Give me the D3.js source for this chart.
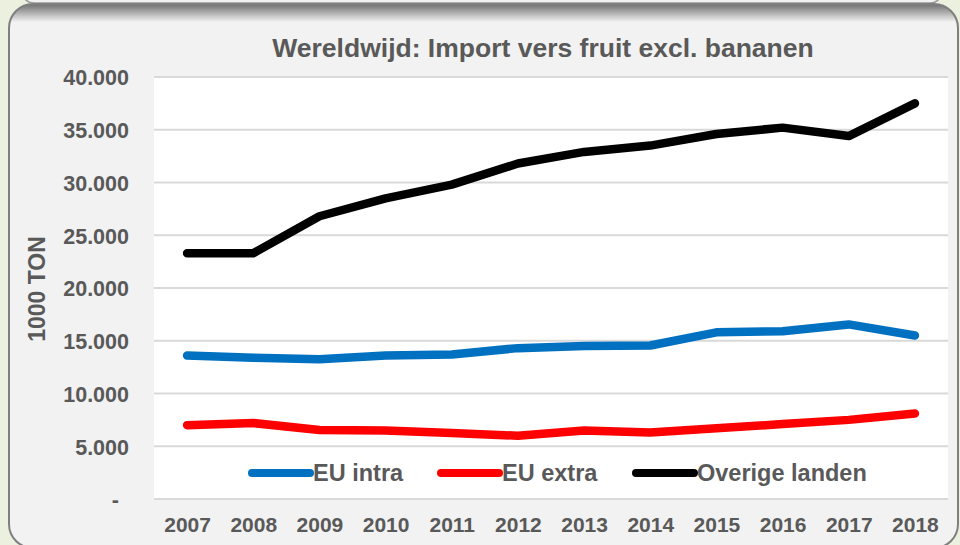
<!DOCTYPE html>
<html>
<head>
<meta charset="utf-8">
<script src="https://cdn.jsdelivr.net/npm/d3@7"></script>
<style>
  body { margin: 0; background: #ebf1de; }
  text { font-family: "Liberation Sans", Arial, sans-serif; font-weight: bold; fill: #595959; }
</style>
</head>
<body>
<script>
const years = ['2007','2008','2009','2010','2011','2012','2013','2014','2015','2016','2017','2018'];
const euIntra = [13600,13400,13250,13600,13700,14300,14500,14550,15800,15900,16550,15500];
const euExtra = [7000,7200,6550,6500,6250,6000,6500,6300,6700,7100,7500,8100];
const overige = [23300,23300,26800,28500,29800,31800,32900,33500,34600,35200,34400,37500];
const yTicks = [0,5000,10000,15000,20000,25000,30000,35000,40000];

const seriesNames = ['EU intra','EU extra','Overige landen'];
const seriesColors = ['#0070c0','#ff0000','#000000'];
const seriesValues = [euIntra, euExtra, overige];

const width = 960;
const height = 545;

let svg = d3.select('body').append('svg')
  .attr('width', width)
  .attr('height', height);

// panel background with shadow at top
let defs = svg.append('defs');
let grad = defs.append('linearGradient')
  .attr('id', 'topShade')
  .attr('gradientUnits', 'userSpaceOnUse')
  .attr('x1', 0).attr('x2', 0)
  .attr('y1', 4).attr('y2', 22);
grad.append('stop').attr('offset', 0).attr('stop-color', '#6f6f6f');
grad.append('stop').attr('offset', 1).attr('stop-color', '#f2f2f2');

svg.append('rect')
  .attr('x', 22).attr('y', -20)
  .attr('width', 920).attr('height', 23)
  .attr('rx', 12)
  .style('fill', '#f2f2f2')
  .style('stroke', '#9a9a9a')
  .style('stroke-width', 1.5);

svg.append('rect')
  .attr('x', 9).attr('y', 4)
  .attr('width', 949).attr('height', 544)
  .attr('rx', 24)
  .style('fill', 'url(#topShade)')
  .style('stroke', '#7f7f7f')
  .style('stroke-width', 2);

const plot = { left: 154, right: 948, top: 77, bottom: 499 };

let x = d3.scalePoint()
  .domain(years)
  .range([plot.left, plot.right])
  .padding(0.5);

let y = d3.scaleLinear()
  .domain([0, 40000])
  .range([plot.bottom, plot.top]);

svg.append('rect')
  .attr('x', plot.left).attr('y', plot.top)
  .attr('width', plot.right - plot.left)
  .attr('height', plot.bottom - plot.top)
  .style('fill', '#ffffff');

// gridlines
svg.append('g')
  .selectAll('line')
  .data(yTicks)
  .enter()
  .append('line')
  .attr('x1', plot.left)
  .attr('x2', plot.right)
  .attr('y1', (d) => y(d))
  .attr('y2', (d) => y(d))
  .style('stroke', '#d9d9d9')
  .style('stroke-width', 2);

// y axis labels
const fmt = (d) => d === 0 ? '-' : d3.format(',')(d).replace(/,/g, '.');

let yAxis = svg.append('g')
  .attr('transform', `translate(${plot.left - 25},0)`)
  .call(d3.axisLeft(y).tickValues(yTicks).tickFormat(fmt).tickSize(0).tickPadding(0));
yAxis.select('.domain').remove();
yAxis.selectAll('text')
  .attr('dy', '0.36em')
  .attr('x', (d) => d === 0 ? -10 : 0)
  .style('font-size', '21.5px')
  .style('font-family', '"Liberation Sans", Arial, sans-serif')
  .style('fill', '#595959');

// x axis labels
let xAxis = svg.append('g')
  .attr('transform', `translate(0,${plot.bottom})`)
  .call(d3.axisBottom(x).tickSize(0).tickPadding(0));
xAxis.select('.domain').remove();
xAxis.selectAll('text')
  .attr('y', 33)
  .attr('dy', 0)
  .style('font-size', '21px')
  .style('font-family', '"Liberation Sans", Arial, sans-serif')
  .style('fill', '#595959');

// lines
let line = d3.line()
  .x((d, i) => x(years[i]))
  .y((d) => y(d));

svg.append('g')
  .selectAll('path')
  .data(seriesValues)
  .enter()
  .append('path')
  .attr('d', (d) => line(d))
  .style('fill', 'none')
  .style('stroke', (d, i) => seriesColors[i])
  .style('stroke-width', 8.5)
  .style('stroke-linecap', 'round')
  .style('stroke-linejoin', 'round');

// legend
const legendX = [252, 441, 636];
let legend = svg.append('g')
  .selectAll('g')
  .data(seriesNames)
  .enter()
  .append('g')
  .attr('transform', (d, i) => `translate(${legendX[i]},473)`);

legend.append('line')
  .attr('x1', 0).attr('x2', 58)
  .attr('y1', 0).attr('y2', 0)
  .style('stroke', (d, i) => seriesColors[i])
  .style('stroke-width', 8)
  .style('stroke-linecap', 'round');

legend.append('text')
  .attr('x', 61)
  .attr('y', 7.5)
  .style('font-size', '23.5px')
  .text((d) => d);

// title
svg.append('text')
  .attr('x', 543)
  .attr('y', 57)
  .attr('text-anchor', 'middle')
  .style('font-size', '26.5px')
  .text('Wereldwijd: Import vers fruit excl. bananen');

// y axis title
svg.append('text')
  .attr('transform', 'translate(45,289) rotate(-90)')
  .attr('text-anchor', 'middle')
  .style('font-size', '23px')
  .text('1000 TON');
</script>
</body>
</html>
